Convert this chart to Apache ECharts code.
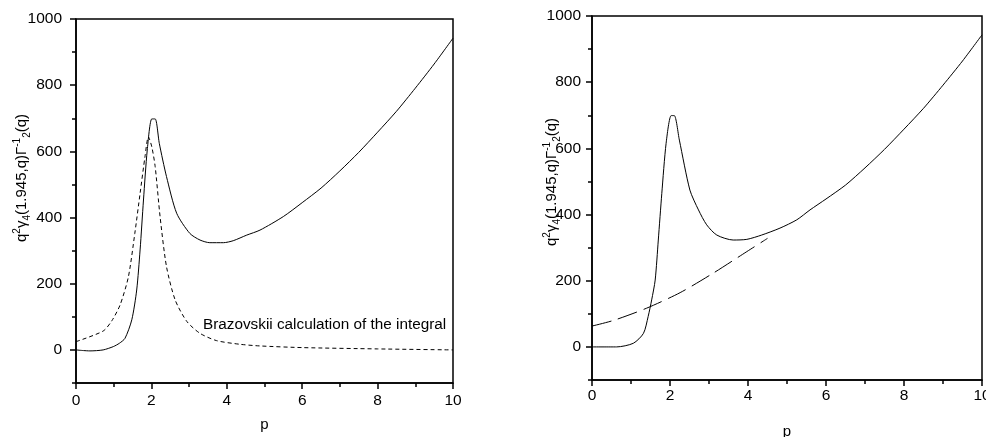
<!DOCTYPE html>
<html>
<head>
<meta charset="utf-8">
<script src="https://cdn.jsdelivr.net/npm/echarts@6/dist/echarts.min.js"></script>
<style>
html,body{margin:0;padding:0;background:#fff;}
#c{width:986px;height:437px;}
</style>
</head>
<body>
<div id="c"></div>
<script>
// ---- data ----
const xTicks = [0, 2, 4, 6, 8, 10];
const yMajorTicks = [0, 200, 400, 600, 800, 1000];
const yMinorTicks = [-100, 100, 300, 500, 700, 900];

const leftSolidP = [0, 0.2, 0.37, 0.72, 0.99, 1.15, 1.30, 1.48, 1.61, 1.70, 1.79, 1.89, 2.01, 2.10, 2.21, 2.40, 2.67, 3.02, 3.29, 3.55, 3.91, 4.17, 4.53, 4.88, 5.5, 6, 6.5, 7, 7.5, 8, 8.5, 9, 9.5, 10];
const leftSolidV = [0, -2, -3, 0, 10, 20, 35, 91, 181, 302, 453, 604, 698, 698, 624, 524, 413, 352, 332, 324, 324, 330, 347, 362, 403, 445, 489, 541, 597, 658, 721, 791, 864, 942];

const leftDashP = [0, 0.72, 0.95, 1.17, 1.39, 1.56, 1.70, 1.83, 1.92, 2.01, 2.10, 2.23, 2.40, 2.63, 2.94, 3.29, 3.73, 4.35, 4.88, 6, 8, 10];
const leftDashV = [25, 57, 88, 136, 221, 352, 473, 584, 644, 614, 554, 403, 252, 151, 86, 50, 28, 17, 12, 7, 3, 0];

const rightSolidP = [0, 0.63, 1.06, 1.32, 1.44, 1.53, 1.62, 1.70, 1.79, 1.90, 2.03, 2.11, 2.24, 2.51, 2.73, 2.94, 3.20, 3.62, 3.97, 4.35, 4.82, 5.25, 5.59, 6, 6.5, 7, 7.5, 8, 8.5, 9, 9.5, 10];
const rightSolidV = [0, 0, 11, 41, 92, 142, 202, 323, 464, 615, 699, 699, 625, 474, 414, 369, 338, 323, 325, 338, 359, 384, 414, 447, 489, 541, 597, 658, 721, 791, 864, 943];

const rightDashP = [0, 0.55, 1.40, 2.26, 3.11, 3.97, 4.50];
const rightDashV = [63, 80, 117, 164, 223, 288, 328];

const annotation = 'Brazovskii calculation of the integral';
const xName = 'p';

// ---- build ----
const zip = (a, b) => a.map((v, i) => [v, b[i]]);
const FONT = "'Liberation Sans', Arial, sans-serif";
const plain = v => String(v);

function xAx(gridIndex, margin, nameGap) {
  return {
    type: 'value', gridIndex, position: 'bottom', min: 0, max: 10, interval: 2,
    name: xName, nameLocation: 'middle', nameGap,
    nameTextStyle: { fontFamily: FONT, fontSize: 15, color: '#000' },
    axisLine: { show: true, onZero: false, lineStyle: { color: '#000', width: 1.5 } },
    axisTick: { show: true, length: 6, lineStyle: { color: '#000', width: 1.5 } },
    minorTick: { show: true, splitNumber: 2, length: 4, lineStyle: { color: '#000', width: 1.5 } },
    axisLabel: { fontFamily: FONT, fontSize: 15.5, color: '#000', margin, formatter: plain },
    splitLine: { show: false }, minorSplitLine: { show: false }
  };
}
function yMajor(gridIndex, margin) {
  return {
    type: 'value', gridIndex, position: 'left', offset: 0, min: -100, max: 1000, interval: 100,
    axisLine: { show: true, onZero: false, lineStyle: { color: '#000', width: 1.5 } },
    axisTick: { show: true, length: 6, customValues: yMajorTicks, lineStyle: { color: '#000', width: 1.5 } },
    axisLabel: { fontFamily: FONT, fontSize: 15.5, color: '#000', margin, customValues: yMajorTicks, formatter: plain },
    splitLine: { show: false }
  };
}
function yMinor(gridIndex) {
  return {
    type: 'value', gridIndex, position: 'left', offset: 0, min: -100, max: 1000, interval: 100,
    axisLine: { show: false, onZero: false },
    axisTick: { show: true, length: 4, customValues: yMinorTicks, lineStyle: { color: '#000', width: 1.5 } },
    axisLabel: { show: false },
    splitLine: { show: false }
  };
}
function line(data, xi, yi, type) {
  return {
    type: 'line', data, xAxisIndex: xi, yAxisIndex: yi, showSymbol: false, symbol: 'none',
    smooth: 0.25, animation: false, silent: true,
    lineStyle: { color: '#000', width: 1, type }
  };
}
const yTitleRich = {
  m: { fontFamily: FONT, fontSize: 15, color: '#000', lineHeight: 20, verticalAlign: 'middle' },
  sup: { fontFamily: FONT, fontSize: 10, color: '#000', lineHeight: 10, verticalAlign: 'top' },
  sub: { fontFamily: FONT, fontSize: 10, color: '#000', lineHeight: 10, verticalAlign: 'bottom' }
};
const yTitleText = '{m|q}{sup|2}{m|γ}{sub|4}{m|(1.945,q)Γ}{sup|-1}{sub|2}{m|(q)}';

const chart = echarts.init(document.getElementById('c'), null, { renderer: 'canvas' });
chart.setOption({
  animation: false,
  backgroundColor: '#fff',
  grid: [
    { left: 76, top: 19, width: 377, height: 364, containLabel: false, outerBoundsMode: 'none', show: true, borderColor: '#000', borderWidth: 1.5, backgroundColor: 'transparent' },
    { left: 592, top: 16, width: 390, height: 364, containLabel: false, outerBoundsMode: 'none', show: true, borderColor: '#000', borderWidth: 1.5, backgroundColor: 'transparent' }
  ],
  xAxis: [xAx(0, 10, 34), xAx(1, 8, 44)],
  yAxis: [yMajor(0, 14), yMinor(0), yMajor(1, 11), yMinor(1)],
  series: [
    line(zip(leftSolidP, leftSolidV), 0, 0, 'solid'),
    line(zip(leftDashP, leftDashV), 0, 0, [4, 3]),
    line(zip(rightSolidP, rightSolidV), 1, 2, 'solid'),
    line(zip(rightDashP, rightDashV), 1, 2, [20, 7])
  ],
  graphic: [
    { type: 'text', x: 203, y: 325, silent: true,
      style: { text: annotation, font: "15.3px 'Liberation Sans', Arial, sans-serif", fill: '#000', textAlign: 'left', textVerticalAlign: 'middle' } },
    { type: 'text', x: 22, y: 178, rotation: Math.PI / 2, silent: true,
      style: { text: yTitleText, rich: yTitleRich, align: 'center', verticalAlign: 'middle', fill: '#000' } },
    { type: 'text', x: 552, y: 182, rotation: Math.PI / 2, silent: true,
      style: { text: yTitleText, rich: yTitleRich, align: 'center', verticalAlign: 'middle', fill: '#000' } }
  ]
});
</script>
</body>
</html>
